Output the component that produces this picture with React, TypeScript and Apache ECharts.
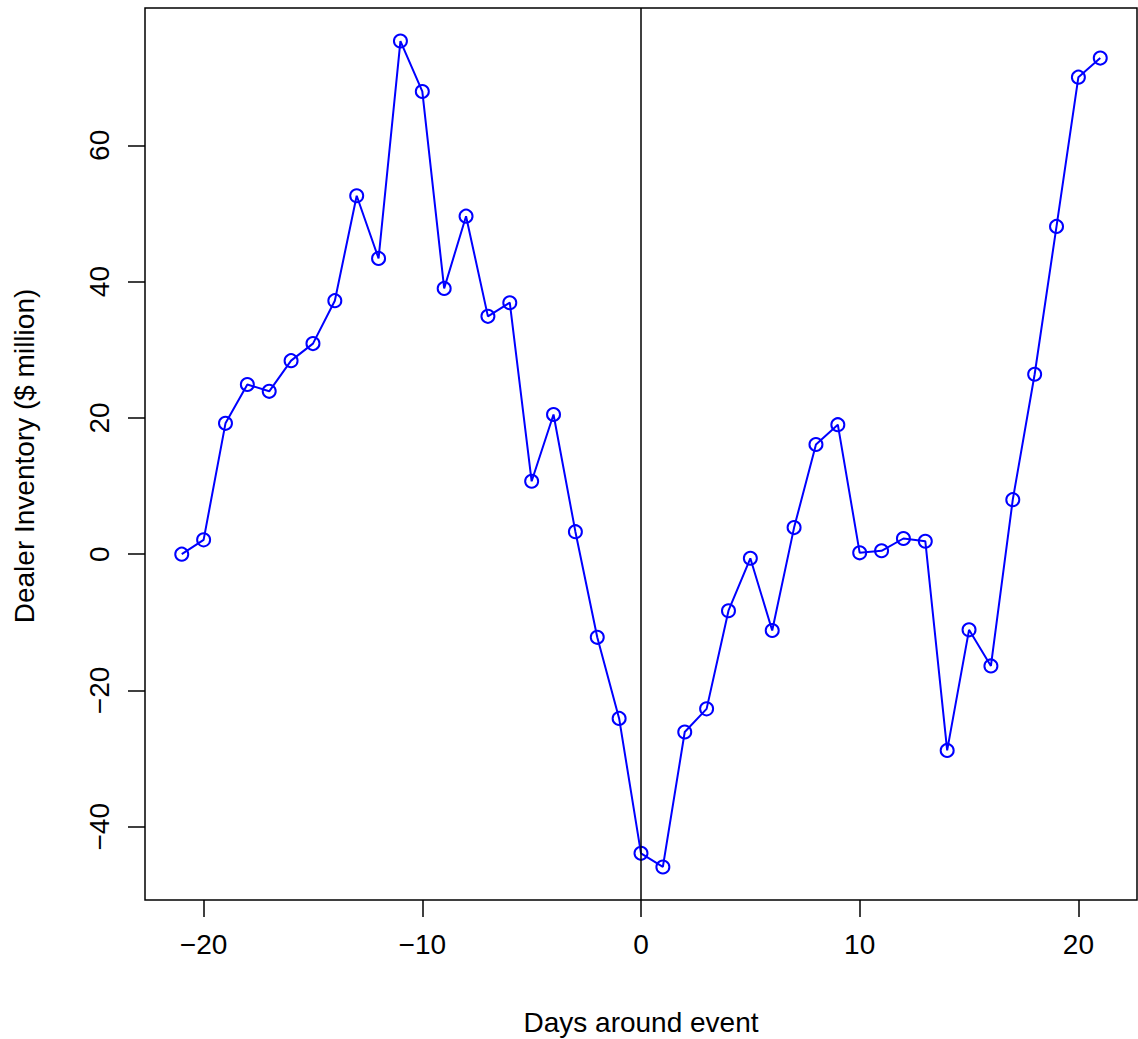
import React, { useEffect, useRef } from "react";
import * as echarts from "echarts";

const days: number[] = [
  -21, -20, -19, -18, -17, -16, -15, -14, -13, -12, -11, -10, -9, -8, -7, -6, -5, -4, -3, -2, -1,
  0, 1, 2, 3, 4, 5, 6, 7, 8, 9, 10, 11, 12, 13, 14, 15, 16, 17, 18, 19, 20, 21,
];
const inventory: number[] = [
  0, 2.1, 19.2, 24.9, 23.9, 28.4, 30.9, 37.2, 52.6, 43.4, 75.3, 67.9, 39.0, 49.6, 34.9, 36.9, 10.7,
  20.5, 3.3, -12.2, -24.1, -43.9, -45.9, -26.1, -22.7, -8.3, -0.6, -11.2, 3.9, 16.1, 19.0, 0.2, 0.5,
  2.3, 1.9, -28.8, -11.1, -16.4, 8.0, 26.4, 48.1, 70.0, 72.8,
];
const xTicks: number[] = [-20, -10, 0, 10, 20];
const yTicks: number[] = [-40, -20, 0, 20, 40, 60];
const xTitle = "Days around event";
const yTitle = "Dealer Inventory ($ million)";

const FONT = "'Liberation Sans', Arial, Helvetica, sans-serif";

export default function App() {
  const ref = useRef<HTMLDivElement>(null);
  useEffect(() => {
    if (!ref.current) return;
    const chart = echarts.init(ref.current, null, { renderer: "svg" });
    const xMin = Math.min(...days);
    const xMax = Math.max(...days);
    const yMin = Math.min(...inventory);
    const yMax = Math.max(...inventory);
    const xPad = (xMax - xMin) * 0.04;
    const yPad = (yMax - yMin) * 0.04;
    const fmt = (v: number) => (v < 0 ? "\u2212" + Math.abs(v) : String(v));
    chart.setOption({
      animation: false,
      backgroundColor: "#fff",
      grid: {
        left: 145,
        top: 8,
        width: 992,
        height: 892,
        show: true,
        borderColor: "#000",
        borderWidth: 1.5,
        backgroundColor: "transparent",
      },
      xAxis: {
        type: "value",
        min: xMin - xPad,
        max: xMax + xPad,
        splitLine: { show: false },
        axisLine: { show: false, onZero: false },
        axisTick: {
          show: true,
          inside: false,
          length: 17,
          customValues: xTicks,
          lineStyle: { color: "#000", width: 1.5 },
        },
        axisLabel: {
          customValues: xTicks,
          margin: 30,
          color: "#000",
          fontSize: 28,
          fontFamily: FONT,
          formatter: fmt,
        },
      },
      yAxis: {
        type: "value",
        min: yMin - yPad,
        max: yMax + yPad,
        splitLine: { show: false },
        axisLine: { show: false, onZero: false },
        axisTick: {
          show: true,
          inside: false,
          length: 17,
          customValues: yTicks,
          lineStyle: { color: "#000", width: 1.5 },
        },
        axisLabel: {
          customValues: yTicks,
          rotate: 90,
          margin: 32,
          color: "#000",
          fontSize: 28,
          fontFamily: FONT,
          formatter: fmt,
        },
      },
      graphic: [
        {
          type: "text",
          x: 641,
          y: 1022,
          style: {
            text: xTitle,
            fill: "#000",
            font: `28px ${FONT}`,
            textAlign: "center",
            textVerticalAlign: "middle",
          },
        },
        {
          type: "text",
          x: 24,
          y: 456,
          rotation: Math.PI / 2,
          style: {
            text: yTitle,
            fill: "#000",
            font: `28px ${FONT}`,
            textAlign: "center",
            textVerticalAlign: "middle",
          },
        },
      ],
      series: [
        {
          type: "line",
          data: days.map((d, i) => [d, inventory[i]]),
          symbol: "circle",
          symbolSize: 13,
          showSymbol: true,
          lineStyle: { color: "#0000FF", width: 2 },
          itemStyle: { color: "rgba(0,0,0,0)", borderColor: "#0000FF", borderWidth: 2 },
          markLine: {
            silent: true,
            symbol: ["none", "none"],
            label: { show: false },
            lineStyle: { color: "#000", width: 1.5, type: "solid" },
            data: [{ xAxis: 0 }],
          },
        },
      ],
    });
    return () => chart.dispose();
  }, []);
  return (
    <div
      ref={ref}
      style={{ position: "fixed", left: 0, top: 0, width: 1138, height: 1039, background: "#fff" }}
    />
  );
}
